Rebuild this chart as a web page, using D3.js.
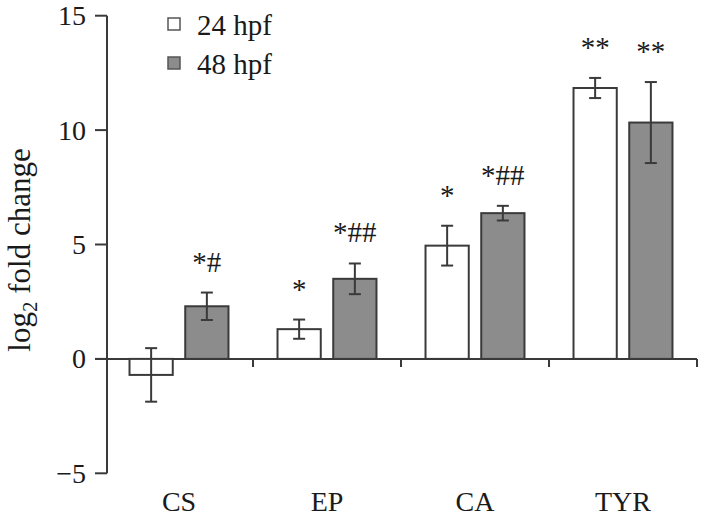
<!DOCTYPE html>
<html>
<head>
<meta charset="utf-8">
<script src="https://cdn.jsdelivr.net/npm/d3@7"></script>
<style>
body { margin: 0; background: #fff; }
text { font-family: "Liberation Serif", "Times New Roman", serif; fill: #1a1a1a; }
</style>
</head>
<body>
<div id="chart"></div>
<script>
// data
categories = ["CS", "EP", "CA", "TYR"];
series = ["24 hpf", "48 hpf"];
values24 = [-0.7, 1.3, 4.95, 11.84];
errors24 = [1.17, 0.42, 0.87, 0.44];
values48 = [2.3, 3.5, 6.37, 10.33];
errors48 = [0.6, 0.67, 0.32, 1.77];
marks24 = ["", "*", "*", "**"];
marks48 = ["*#", "*##", "*##", "**"];
yTicks = [-5, 0, 5, 10, 15];

width = 703;
height = 526;
fills = ["#ffffff", "#8c8c8c"];
stroke = "#3a3a3a";

const rows = [];
categories.forEach((c, i) => {
    rows.push({cat: c, s: series[0], v: values24[i], e: errors24[i], m: marks24[i]});
    rows.push({cat: c, s: series[1], v: values48[i], e: errors48[i], m: marks48[i]});
});

const svg = d3.select("#chart")
    .append("svg")
    .attr("width", width)
    .attr("height", height);

var y = d3.scaleLinear()
    .domain([-5, 15])
    .range([473.3, 15.7]);

var x0 = d3.scaleBand()
    .domain(categories)
    .range([105, 697]);

var x1 = d3.scaleBand()
    .domain(series)
    .range([0, x0.bandwidth()])
    .paddingInner(0.224)
    .paddingOuter(0.44);

const axisX = 107;

// y axis
svg.append("line")
    .attr("x1", axisX).attr("x2", axisX)
    .attr("y1", y(15)).attr("y2", y(-5))
    .attr("stroke", stroke).attr("stroke-width", 2);

svg.selectAll(".ytick")
    .data(yTicks)
    .join("line")
    .attr("class", "ytick")
    .attr("x1", axisX - 12).attr("x2", axisX)
    .attr("y1", d => y(d)).attr("y2", d => y(d))
    .attr("stroke", stroke).attr("stroke-width", 2);

svg.selectAll(".ylab")
    .data(yTicks)
    .join("text")
    .attr("class", "ylab")
    .attr("x", 86)
    .attr("y", d => y(d))
    .attr("dy", "0.34em")
    .attr("text-anchor", "end")
    .attr("font-size", "28px")
    .text(d => d < 0 ? "\u2212" + Math.abs(d) : d);

// x axis along zero
const xEnd = x0.range()[1];
svg.append("line")
    .attr("x1", axisX - 12).attr("x2", xEnd)
    .attr("y1", y(0)).attr("y2", y(0))
    .attr("stroke", stroke).attr("stroke-width", 2);

svg.selectAll(".xtick")
    .data(categories)
    .join("line")
    .attr("class", "xtick")
    .attr("x1", d => x0(d) + x0.bandwidth())
    .attr("x2", d => x0(d) + x0.bandwidth())
    .attr("y1", y(0)).attr("y2", y(0) + 8)
    .attr("stroke", stroke).attr("stroke-width", 2);

svg.selectAll(".xlab")
    .data(categories)
    .join("text")
    .attr("class", "xlab")
    .attr("x", d => x0(d) + x0.bandwidth() / 2)
    .attr("y", 511)
    .attr("text-anchor", "middle")
    .attr("font-size", "28px")
    .text(d => d);

// bars
svg.selectAll(".bar")
    .data(rows)
    .join("rect")
    .attr("class", "bar")
    .attr("x", d => x0(d.cat) + x1(d.s))
    .attr("y", d => y(Math.max(0, d.v)))
    .attr("width", x1.bandwidth())
    .attr("height", d => Math.abs(y(d.v) - y(0)))
    .attr("fill", d => d.s === series[0] ? fills[0] : fills[1])
    .attr("stroke", stroke)
    .attr("stroke-width", 2);

// error bars
const cx = d => x0(d.cat) + x1(d.s) + x1.bandwidth() / 2;
const err = svg.append("g")
    .attr("stroke", stroke)
    .attr("stroke-width", 2);

err.selectAll(".ev")
    .data(rows)
    .join("line")
    .attr("class", "ev")
    .attr("x1", cx).attr("x2", cx)
    .attr("y1", d => y(d.v + d.e)).attr("y2", d => y(d.v - d.e));

err.selectAll(".ct")
    .data(rows)
    .join("line")
    .attr("class", "ct")
    .attr("x1", d => cx(d) - 6).attr("x2", d => cx(d) + 6)
    .attr("y1", d => y(d.v + d.e)).attr("y2", d => y(d.v + d.e));

err.selectAll(".cb")
    .data(rows)
    .join("line")
    .attr("class", "cb")
    .attr("x1", d => cx(d) - 6).attr("x2", d => cx(d) + 6)
    .attr("y1", d => y(d.v - d.e)).attr("y2", d => y(d.v - d.e));

// significance marks
svg.selectAll(".mark")
    .data(rows.filter(d => d.m))
    .join("text")
    .attr("class", "mark")
    .attr("x", cx)
    .attr("y", d => y(d.v + d.e) - 21)
    .attr("text-anchor", "middle")
    .attr("font-size", "29px")
    .text(d => d.m);

// y label
const ylab = svg.append("text")
    .attr("transform", "translate(30,250) rotate(-90)")
    .attr("text-anchor", "middle")
    .attr("font-size", "31px");
ylab.append("tspan").text("log");
ylab.append("tspan").attr("font-size", "21px").attr("dy", 7).text("2");
ylab.append("tspan").attr("dy", -7).text(" fold change");

// legend
const legend = svg.selectAll(".leg")
    .data(series)
    .join("g")
    .attr("class", "leg")
    .attr("transform", (d, i) => `translate(168, ${18 + i * 39})`);

legend.append("rect")
    .attr("width", 12).attr("height", 12)
    .attr("fill", (d, i) => fills[i])
    .attr("stroke", "#555")
    .attr("stroke-width", 1.5);

legend.append("text")
    .attr("x", 29)
    .attr("y", 17)
    .attr("font-size", "29px")
    .text(d => d);
</script>
</body>
</html>
